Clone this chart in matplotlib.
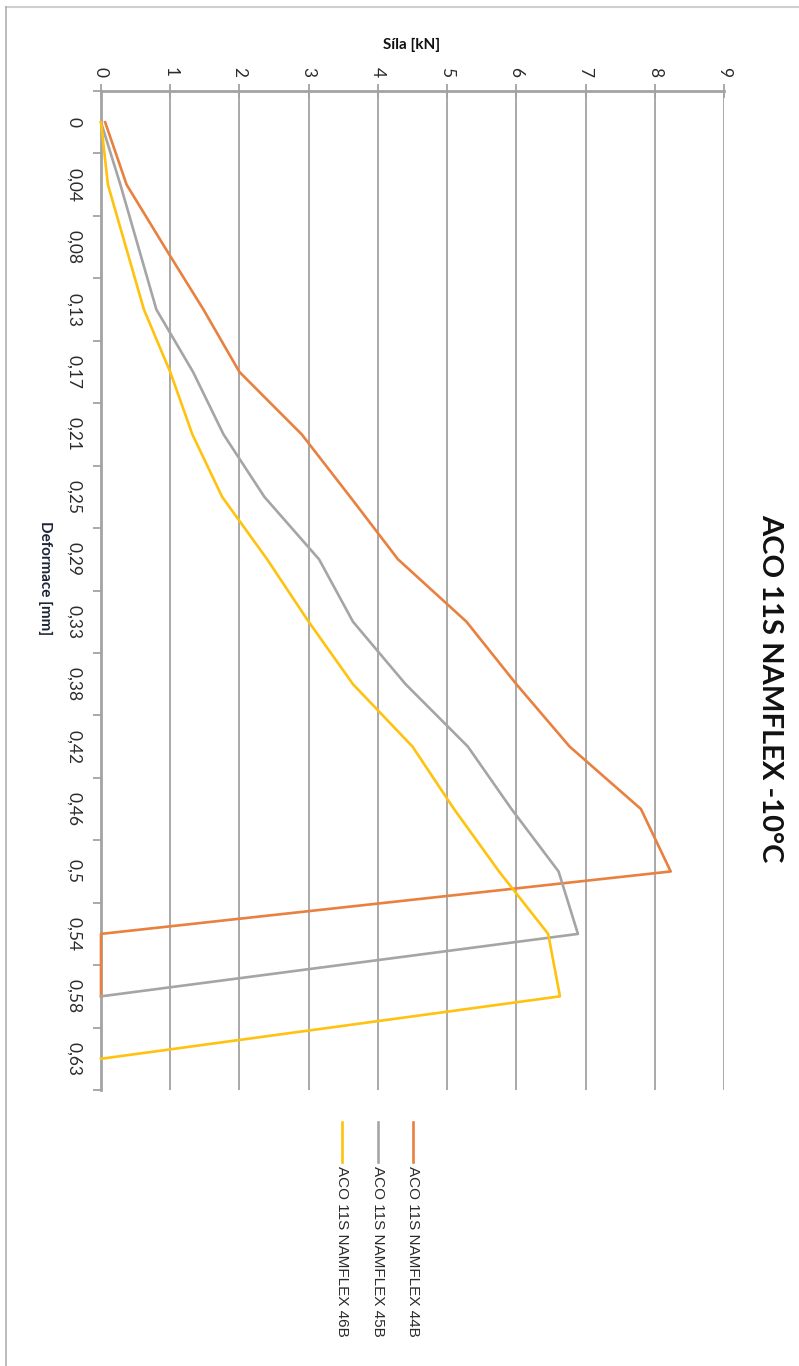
import numpy as np
import matplotlib
matplotlib.use("Agg")
import matplotlib.pyplot as plt
from matplotlib.lines import Line2D

# Deformation categories [mm] and force values [kN]
deformace = ["0", "0,04", "0,08", "0,13", "0,17", "0,21", "0,25", "0,29",
             "0,33", "0,38", "0,42", "0,46", "0,5", "0,54", "0,58", "0,63"]
sila_44b = [0.06, 0.37, 0.92, 1.48, 2.0, 2.9, 3.6, 4.29,
            5.28, 6.0, 6.77, 7.8, 8.23, 0.0, 0.0, np.nan]
sila_45b = [0.0, 0.28, 0.54, 0.80, 1.33, 1.77, 2.36, 3.15,
            3.64, 4.4, 5.3, 5.93, 6.61, 6.89, 0.0, np.nan]
sila_46b = [0.0, 0.10, 0.36, 0.62, 1.0, 1.32, 1.75, 2.4,
            3.0, 3.64, 4.5, 5.1, 5.75, 6.46, 6.63, 0.0]
series_names = ["ACO 11S NAMFLEX 44B", "ACO 11S NAMFLEX 45B", "ACO 11S NAMFLEX 46B"]
series_colors = ["#E8803F", "#A5A5A5", "#FFC20E"]
force_ticks = list(range(10))

title = "ACO 11S NAMFLEX -10°C"
force_label = "Síla [kN]"
deform_label = "Deformace [mm]"

W, H = 799, 1366
plt.rcParams['font.family'] = ['Lato', 'DejaVu Sans']
fig = plt.figure(figsize=(W / 100, H / 100), dpi=100)


def fx(px):
    return px / W


def fy(py):
    return 1 - py / H


grid_col = "#a3a3a3"
text_col = "#2b2b2b"

ax = fig.add_axes([fx(101), fy(1090), fx(724) - fx(101), fy(91) - fy(1090)])
pos = np.arange(len(deformace))
for vals, col in zip([sila_44b, sila_45b, sila_46b], series_colors):
    ax.plot(vals, pos, color=col, lw=1.9, zorder=4, clip_on=False,
            solid_joinstyle="round")

ax.set_xlim(0, 9)
ax.set_ylim(len(deformace) - 0.5, -0.5)

# value axis along the top
ax.xaxis.tick_top()
ax.set_xticks(force_ticks)
ax.set_xticklabels([str(t) for t in force_ticks], rotation=-90)
ax.tick_params(axis="x", direction="inout", length=10, width=1.3,
               color=grid_col, labelsize=12.5, pad=5, labelcolor=text_col)
ax.grid(axis="x", color=grid_col, lw=1.3, zorder=1)

# category axis on the left: ticks between categories, labels centred
ax.set_yticks(np.arange(len(deformace) + 1) - 0.5)
ax.set_yticklabels([])
ax.tick_params(axis="y", which="major", direction="out", length=6,
               width=1.3, color=grid_col)
ax.set_yticks(pos, minor=True)
ax.set_yticklabels(deformace, minor=True, rotation=-90, va="center")
ax.tick_params(axis="y", which="minor", length=0, pad=14, labelsize=12.5,
               labelcolor=text_col)

for side in ["right", "bottom"]:
    ax.spines[side].set_visible(False)
for side in ["top", "left"]:
    ax.spines[side].set_color(grid_col)
    ax.spines[side].set_linewidth(2)

# titles
fig.text(fx(770), fy(688), title, rotation=-90, fontsize=21,
         weight="bold", ha="center", va="center", color="#111111")
fig.text(fx(412), fy(45), force_label, fontsize=11, weight="bold",
         ha="center", va="center", color="#111111")
fig.text(fx(45), fy(578), deform_label, rotation=-90, fontsize=11,
         weight="bold", ha="center", va="center", color="#1c2438")

# legend
legend_x = [413, 378, 342]
for name, col, lx in zip(series_names, series_colors, legend_x):
    fig.add_artist(Line2D([fx(lx), fx(lx)], [fy(1122), fy(1162)],
                          transform=fig.transFigure, color=col, lw=1.9))
    fig.text(fx(lx), fy(1166), name, rotation=-90, fontsize=11,
             ha="center", va="top", color=text_col,
             family=["Liberation Sans", "DejaVu Sans"])

# chart frame edges (top and left)
fig.add_artist(Line2D([fx(6), fx(799)], [fy(7), fy(7)],
                      transform=fig.transFigure, color="#d0d0d0", lw=1.5))
fig.add_artist(Line2D([fx(6), fx(6)], [fy(7), fy(1366)],
                      transform=fig.transFigure, color="#b0b0b0", lw=1.2))

fig.savefig("out.png", dpi=100)
